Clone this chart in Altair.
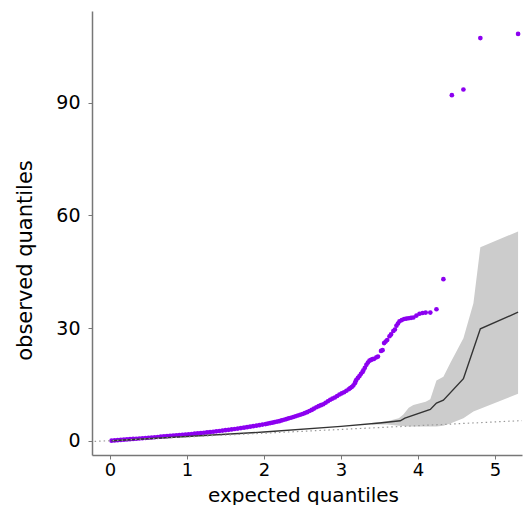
import altair as alt
import pandas as pd

# observed vs expected quantiles
obs_x = [0.02, 0.06, 0.10, 0.14, 0.18, 0.22, 0.26, 0.30, 0.34, 0.38, 0.42, 0.46, 0.50, 0.54, 0.58,
         0.62, 0.66, 0.70, 0.74, 0.78, 0.82, 0.86, 0.90, 0.94, 0.98, 1.02, 1.06, 1.10, 1.14, 1.18,
         1.22, 1.26, 1.30, 1.34, 1.38, 1.42, 1.46, 1.50, 1.54, 1.58, 1.62, 1.66, 1.70, 1.74, 1.78,
         1.82, 1.86, 1.90, 1.94, 1.98,
         2.02, 2.05, 2.08, 2.11, 2.14, 2.17, 2.20, 2.23, 2.26, 2.29, 2.32, 2.35, 2.38, 2.41, 2.44,
         2.47, 2.50, 2.53, 2.56, 2.59, 2.62, 2.65, 2.68, 2.71, 2.74, 2.77, 2.80, 2.83, 2.86, 2.89,
         2.92, 2.95, 2.98, 3.01, 3.04, 3.07, 3.10,
         3.12, 3.14, 3.16, 3.18, 3.19, 3.20, 3.22, 3.24, 3.26, 3.28, 3.29, 3.31, 3.33, 3.35, 3.37,
         3.39, 3.41, 3.43, 3.46, 3.48, 3.52, 3.54, 3.56, 3.58, 3.60, 3.63, 3.65, 3.68, 3.70, 3.72,
         3.74, 3.76, 3.79, 3.82, 3.85, 3.88, 3.91, 3.94, 3.98, 4.02, 4.06, 4.10, 4.16, 4.24, 4.33,
         4.44, 4.59, 4.81, 5.30]
obs_y = [0.0, 0.07, 0.13, 0.2, 0.27, 0.33, 0.4, 0.46, 0.52, 0.59, 0.65, 0.72, 0.79, 0.85, 0.92,
         0.99, 1.06, 1.13, 1.2, 1.26, 1.33, 1.4, 1.48, 1.55, 1.63, 1.7, 1.78, 1.86, 1.94, 2.02,
         2.11, 2.2, 2.29, 2.38, 2.48, 2.58, 2.68, 2.79, 2.9, 3.01, 3.12, 3.23, 3.35, 3.47, 3.59,
         3.72, 3.86, 4.0, 4.14, 4.28,
         4.42, 4.55, 4.68, 4.8, 4.95, 5.08, 5.2, 5.4, 5.58, 5.76, 5.95, 6.1, 6.3, 6.5, 6.7,
         6.9, 7.1, 7.35, 7.6, 7.9, 8.2, 8.55, 8.9, 9.2, 9.45, 9.7, 10.1, 10.5, 10.9, 11.2,
         11.5, 11.9, 12.3, 12.6, 12.9, 13.3, 13.7,
         14.0, 14.3, 14.7, 15.3, 15.8, 16.2, 16.7, 17.2, 17.8, 18.3, 18.7, 19.4, 20.2, 20.8, 21.3,
         21.5, 21.7, 21.8, 22.2, 22.4, 23.9, 24.1, 26.0, 26.4, 26.8, 27.8, 28.3, 29.2, 29.6, 30.6,
         31.2, 31.8, 32.1, 32.4, 32.5, 32.6, 32.7, 32.8, 33.3, 33.8, 34.0, 34.1, 34.1, 35.0, 43.0,
         92.0, 93.5, 107.2, 108.3]

# expected (null) median line
med_x = [0.02, 1.0, 2.0, 3.0, 3.5, 3.77, 3.83, 4.16, 4.24, 4.33, 4.59, 4.81, 5.30]
med_y = [0.0, 1.1, 2.3, 3.8, 4.7, 5.3, 6.0, 8.3, 10.0, 10.8, 16.5, 29.8, 34.2]

# confidence band
band_x = [3.4, 3.6, 3.75, 3.81, 3.88, 3.94, 4.10, 4.16, 4.24, 4.33, 4.42, 4.59, 4.72, 4.81, 5.30]
band_hi = [4.7, 5.2, 6.0, 7.0, 8.8, 9.5, 10.4, 11.0, 16.0, 17.0, 20.7, 27.3, 36.6, 51.5, 55.7]
band_lo = [4.3, 4.3, 4.0, 3.9, 3.8, 3.8, 3.8, 3.8, 3.8, 4.0, 4.6, 6.0, 7.8, 8.5, 12.5]

# identity reference line
diag_x = [-0.2, 5.35]

x_ticks = [0, 1, 2, 3, 4, 5]
y_ticks = [0, 30, 60, 90]

FONT = "DejaVu Sans"
xs = alt.Scale(domain=[-0.234, 5.351], nice=False, zero=False)
ys = alt.Scale(domain=[-3.81, 114.4], nice=False, zero=False)

pts = pd.DataFrame({"x": obs_x, "y": obs_y})
med = pd.DataFrame({"x": med_x, "y": med_y})
band = pd.DataFrame({"x": band_x, "lo": band_lo, "hi": band_hi})
diag = pd.DataFrame({"x": diag_x, "y": diag_x})

x_axis = alt.Axis(values=x_ticks, format="d", title="expected quantiles", grid=False,
                  tickSize=4, labelPadding=2, labelFontSize=18, titleFontSize=20,
                  titleFontWeight="normal", titleX=211, titleY=46, titleBaseline="alphabetic",
                  titleAlign="center")
y_axis = alt.Axis(values=y_ticks, format="d", title="observed quantiles", grid=False,
                  tickSize=4, labelPadding=8, labelFontSize=19, titleFontSize=21,
                  titleFontWeight="normal", titleX=-61, titleY=249, titleBaseline="alphabetic",
                  titleAlign="center", titleAngle=270)

band_layer = alt.Chart(band).mark_area(color="#cccccc", opacity=1).encode(
    x=alt.X("x:Q", scale=xs, axis=x_axis),
    y=alt.Y("lo:Q", scale=ys, axis=y_axis),
    y2="hi:Q",
)
pts_layer = alt.Chart(pts).mark_circle(color="#8c00f0", size=22, opacity=1).encode(
    x=alt.X("x:Q", scale=xs), y=alt.Y("y:Q", scale=ys)
)
med_layer = alt.Chart(med).mark_line(color="#333333", strokeWidth=1.4).encode(
    x=alt.X("x:Q", scale=xs), y=alt.Y("y:Q", scale=ys)
)
diag_layer = alt.Chart(diag).mark_line(color="#999999", strokeWidth=1.2, strokeDash=[1.5, 3]).encode(
    x=alt.X("x:Q", scale=xs), y=alt.Y("y:Q", scale=ys)
)

chart = alt.layer(band_layer, pts_layer, med_layer, diag_layer).properties(
    width=430, height=444,
    autosize=alt.AutoSizeParams(type="none"),
    padding={"left": 84, "top": 3, "right": 2, "bottom": 50},
).configure_view(stroke=None).configure_axis(
    labelFont=FONT, titleFont=FONT, labelColor="#000000", titleColor="#000000",
    domainColor="#777777", domainWidth=1.5, tickColor="#777777", tickWidth=1,
)

chart.save("out.html", embed_options={"renderer": "svg", "actions": False})
